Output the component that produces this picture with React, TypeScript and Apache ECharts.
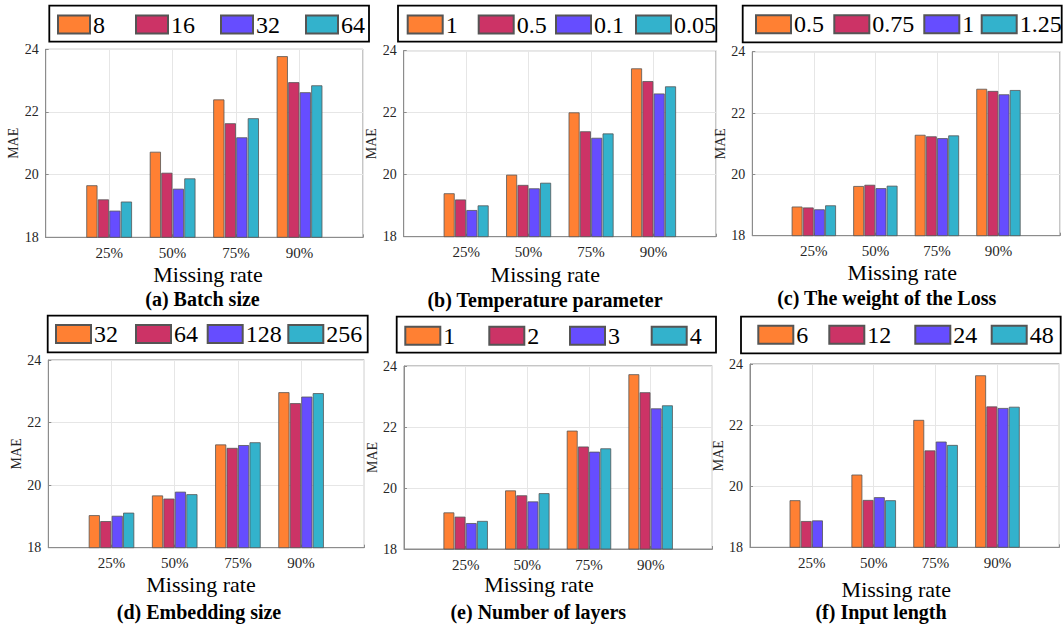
import React, { useEffect, useRef } from 'react';
import * as echarts from 'echarts';

const rates = ['25%', '50%', '75%', '90%'];
const categories = ['', ...rates, ''];
const yMin = 18;
const yMax = 24;
const yStep = 2;
const xName = 'Missing rate';
const yName = 'MAE';

// (a) Batch size
const batchLabels = ['8', '16', '32', '64'];
const batch8 = [19.66, 20.73, 22.4, 23.78];
const batch16 = [19.21, 20.06, 21.64, 22.95];
const batch32 = [18.85, 19.55, 21.19, 22.63];
const batch64 = [19.14, 19.88, 21.8, 22.85];

// (b) Temperature parameter
const tempLabels = ['1', '0.5', '0.1', '0.05'];
const temp1 = [19.4, 20.0, 22.01, 23.43];
const temp05 = [19.2, 19.67, 21.4, 23.02];
const temp01 = [18.86, 19.56, 21.19, 22.62];
const temp005 = [19.01, 19.74, 21.33, 22.85];

// (c) The weight of the Loss
const weightLabels = ['0.5', '0.75', '1', '1.25'];
const weight05 = [18.95, 19.62, 21.29, 22.79];
const weight075 = [18.92, 19.66, 21.24, 22.72];
const weight1 = [18.86, 19.55, 21.18, 22.61];
const weight125 = [18.99, 19.63, 21.27, 22.75];

// (d) Embedding size
const embLabels = ['32', '64', '128', '256'];
const emb32 = [19.04, 19.67, 21.3, 22.97];
const emb64 = [18.85, 19.57, 21.19, 22.62];
const emb128 = [19.02, 19.79, 21.28, 22.83];
const emb256 = [19.12, 19.71, 21.37, 22.94];

// (e) Number of layers
const layerLabels = ['1', '2', '3', '4'];
const layer1 = [19.2, 19.92, 21.88, 23.73];
const layer2 = [19.06, 19.76, 21.36, 23.14];
const layer3 = [18.85, 19.56, 21.19, 22.61];
const layer4 = [18.92, 19.83, 21.3, 22.71];

// (f) Input length
const inputLabels = ['6', '12', '24', '48'];
const input6 = [19.54, 20.38, 22.17, 23.63];
const input12 = [18.86, 19.55, 21.17, 22.61];
const input24 = [18.88, 19.64, 21.46, 22.56];
const input48 = [null, 19.54, 21.35, 22.6];

const panelTitles = [
  '(a) Batch size',
  '(b) Temperature parameter',
  '(c) The weight of the Loss',
  '(d) Embedding size',
  '(e) Number of layers',
  '(f) Input length',
];

const panelLabels = [batchLabels, tempLabels, weightLabels, embLabels, layerLabels, inputLabels];
const panelValues = [
  [batch8, batch16, batch32, batch64],
  [temp1, temp05, temp01, temp005],
  [weight05, weight075, weight1, weight125],
  [emb32, emb64, emb128, emb256],
  [layer1, layer2, layer3, layer4],
  [input6, input12, input24, input48],
];

const colors = ['#FF8033', '#CC3366', '#664DFF', '#33B2CC'];

// ---- layout (pixels) ----
const grids = [
  { left: 45.7, top: 49.3, width: 317.3, height: 188 },
  { left: 403.7, top: 50.7, width: 312.3, height: 186 },
  { left: 752.3, top: 51.7, width: 309.4, height: 184 },
  { left: 48.3, top: 360, width: 316, height: 187.7 },
  { left: 404, top: 366, width: 308.3, height: 183 },
  { left: 750, top: 364, width: 309.3, height: 183.3 },
];
const legendBoxes = [
  { x: 49.3, y: 5.7, w: 319.7, h: 36 },
  { x: 398, y: 5.7, w: 318.3, h: 36 },
  { x: 742.7, y: 5.7, w: 319, h: 36.6 },
  { x: 47.7, y: 315.7, w: 320, h: 36.6 },
  { x: 396.7, y: 316.7, w: 319.3, h: 36 },
  { x: 741, y: 316.7, w: 319.7, h: 36.6 },
];
const legendItemX = [
  [57, 135, 220, 305],
  [406.7, 477.7, 555, 635],
  [755, 833.3, 923.3, 980.7],
  [55, 135, 206.7, 287.3],
  [404.3, 488.3, 569, 650.7],
  [757.3, 828.3, 914.3, 990.7],
];
const legendCy = [24.5, 24.5, 24.3, 334, 335.8, 334.7];
const legendSwatchW = [32, 35, 35, 35, 35, 35];
const xNamePos = [
  [208, 274],
  [545.3, 274],
  [902.3, 272.5],
  [201, 584],
  [539, 584],
  [896.3, 589],
];
const titlePos = [
  [202.5, 299.3],
  [545, 300],
  [886.7, 298.3],
  [199, 612],
  [538.3, 611.6],
  [881, 611.6],
];

const FONT = 'Times New Roman, Tinos, DejaVu Serif, serif';

function buildOption() {
  const grid: any[] = [];
  const xAxis: any[] = [];
  const yAxis: any[] = [];
  const series: any[] = [];
  const legend: any[] = [];
  const graphic: any[] = [];

  grids.forEach((g, i) => {
    grid.push({
      left: g.left,
      top: g.top,
      width: g.width,
      height: g.height,
      show: true,
      borderColor: '#8c8c8c',
      borderWidth: 1,
      backgroundColor: '#ffffff',
      containLabel: false,
    });
    xAxis.push({
      type: 'category',
      gridIndex: i,
      data: categories,
      boundaryGap: false,
      axisLine: { show: true, lineStyle: { color: '#8c8c8c', width: 1 } },
      axisTick: { show: true, inside: true, length: 3, interval: 0, lineStyle: { color: '#8c8c8c' } },
      axisLabel: { interval: 0, fontFamily: FONT, fontSize: 15, color: '#262626', margin: 8 },
      splitLine: { show: true, interval: 0, lineStyle: { color: '#e6e6e6', width: 1 } },
    });
    yAxis.push({
      type: 'value',
      gridIndex: i,
      min: yMin,
      max: yMax,
      interval: yStep,
      name: yName,
      nameLocation: 'middle',
      nameGap: 23,
      nameTextStyle: { fontFamily: FONT, fontSize: 14, color: '#262626' },
      axisLine: { show: true, lineStyle: { color: '#8c8c8c', width: 1 } },
      axisTick: { show: true, inside: true, length: 3, lineStyle: { color: '#8c8c8c' } },
      axisLabel: { fontFamily: FONT, fontSize: 14, color: '#262626', margin: 7 },
      splitLine: { show: true, lineStyle: { color: '#e6e6e6', width: 1 } },
    });

    const key = 'abcdef'[i];
    panelLabels[i].forEach((lab, k) => {
      const name = `${key}:${lab}`;
      const vals = panelValues[i][k].map((v) => (v === null ? '-' : v));
      series.push({
        type: 'bar',
        name,
        xAxisIndex: i,
        yAxisIndex: i,
        data: ['-', ...vals, '-'],
        barGap: '3%',
        barCategoryGap: '28%',
        itemStyle: { color: colors[k], borderColor: '#555555', borderWidth: 0.8 },
        emphasis: { disabled: true },
      });
      legend.push({
        data: [name],
        left: legendItemX[i][k],
        top: legendCy[i] - 12,
        padding: 0,
        itemWidth: legendSwatchW[i],
        itemHeight: 18,
        icon: 'rect',
        selectedMode: false,
        formatter: () => lab,
        textStyle: { fontFamily: FONT, fontSize: 24, color: '#000', padding: [0, 0, 0, -2] },
      });
    });

    const b = legendBoxes[i];
    graphic.push({
      type: 'rect',
      shape: { x: b.x, y: b.y, width: b.w, height: b.h },
      style: { fill: 'none', stroke: '#000', lineWidth: 1.8 },
      silent: true,
    });
    graphic.push({
      type: 'text',
      x: xNamePos[i][0],
      y: xNamePos[i][1],
      style: {
        text: xName,
        fontFamily: FONT,
        fontSize: 22,
        fill: '#000',
        textAlign: 'center',
        textVerticalAlign: 'middle',
      },
      silent: true,
    });
    graphic.push({
      type: 'text',
      x: titlePos[i][0],
      y: titlePos[i][1],
      style: {
        text: panelTitles[i],
        fontFamily: FONT,
        fontSize: 20,
        fontWeight: 'bold',
        fill: '#000',
        textAlign: 'center',
        textVerticalAlign: 'middle',
      },
      silent: true,
    });
  });

  return {
    animation: false,
    backgroundColor: '#ffffff',
    textStyle: { fontFamily: FONT },
    grid,
    xAxis,
    yAxis,
    series,
    legend,
    graphic,
  };
}

export default function App() {
  const ref = useRef<HTMLDivElement>(null);
  useEffect(() => {
    if (!ref.current) return;
    const chart = echarts.init(ref.current, null, { renderer: 'svg' });
    chart.setOption(buildOption() as any);
    return () => {
      chart.dispose();
    };
  }, []);
  return (
    <div
      ref={ref}
      style={{ position: 'fixed', left: 0, top: 0, width: 1063, height: 628, background: '#fff' }}
    />
  );
}
